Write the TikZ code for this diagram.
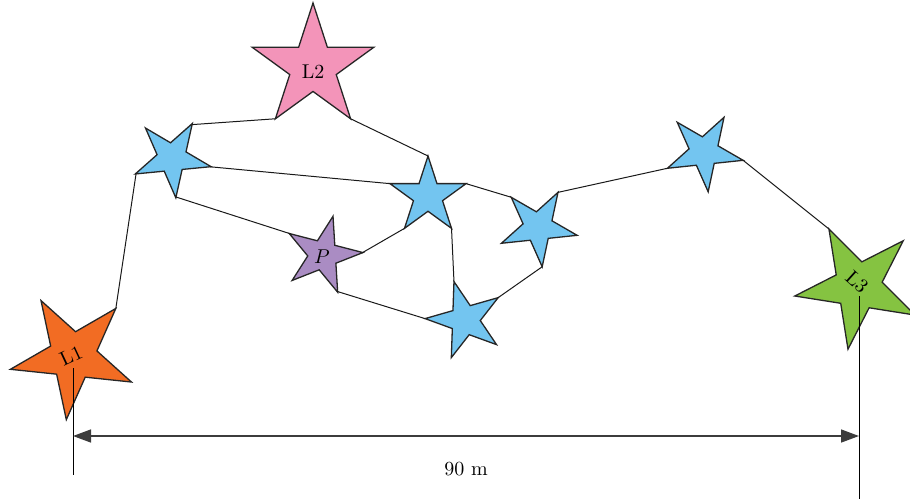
\documentclass[tikz,border=0pt]{standalone}
\usetikzlibrary{shapes.geometric,arrows.meta}
\definecolor{starblue}{RGB}{115,197,240}
\definecolor{starorange}{RGB}{242,108,35}
\definecolor{starpink}{RGB}{243,148,185}
\definecolor{stargreen}{RGB}{133,195,65}
\definecolor{starpurple}{RGB}{170,140,195}
\definecolor{dimgray}{RGB}{60,60,60}
\begin{document}
\begin{tikzpicture}[x=0.5pt,y=-0.5pt,
  starnode/.style={star, star points=5, star point ratio=2.618,
    draw=black!85, line width=0.65pt, inner sep=0pt, outer sep=0pt},
  bigstar/.style={starnode, minimum size=64pt},
  smallstar/.style={starnode, minimum size=40pt, fill=starblue},
  link/.style={line width=0.5pt, black!90},
  dimline/.style={line width=0.5pt, black},
  dimarrow/.style={line width=0.75pt, dimgray,
    {Triangle[length=9pt,width=6.5pt]}-{Triangle[length=9pt,width=6.5pt]}},
  lbl/.style={inner sep=0pt, font=\normalsize}]
\useasboundingbox (0,0) rectangle (910,498);
\clip (0,0) rectangle (910,498);

% stars
\node[bigstar, fill=starorange, shape border rotate=30]   (l1) at (73,356) {};
\node[bigstar, fill=starpink]                             (l2) at (313,67) {};
\node[bigstar, fill=stargreen, shape border rotate=27]    (l3) at (858,286) {};
\node[smallstar, shape border rotate=-30.5]               (b1) at (172,158) {};
\node[smallstar]                                          (b2) at (428,196) {};
\node[smallstar, shape border rotate=16]                  (b3) at (465,320) {};
\node[smallstar, shape border rotate=-30]                 (b4) at (538,227) {};
\node[smallstar, shape border rotate=-30]                 (b5) at (704,152) {};
\node[starnode, minimum size=40pt, fill=starpurple,
      shape border rotate=-14.5]                          (p)  at (323,255) {};

% links between star tips
\draw[link] (l1.48)    -- (b1.203.5);
\draw[link] (b1.59.5)  -- (l2.234);
\draw[link] (l2.306)   -- (b2.90);
\draw[link] (b1.347.5) -- (b2.162);
\draw[link] (b1.275.5) -- (p.147.5);
\draw[link] (p.3.5)    -- (b2.234);
\draw[link] (p.291.5)  -- (b3.178);
\draw[link] (b2.306)   -- (b3.106);
\draw[link] (b2.18)    -- (b4.132);
\draw[link] (b3.34)    -- (b4.276);
\draw[link] (b4.60)    -- (b5.204);
\draw[link] (b5.348)   -- (l3.117);

% labels
\node[lbl, rotate=25]  (l1t) at (71,356) {L1};
\node[lbl]             (l2t) at (313,72) {L2};
\node[lbl, rotate=-42] (l3t) at (857,282) {L3};
\node[lbl]             (pt)  at (322,257) {$P$};

% distance between L1 and L3
\coordinate (d1top) at (73,368);
\coordinate (d1bot) at (73,475);
\coordinate (d3top) at (859,296);
\coordinate (d3bot) at (859,500);
\coordinate (a1) at (73,436);
\coordinate (a3) at (859,436);
\draw[dimline] (d1top) -- (d1bot);
\draw[dimline] (d3top) -- (d3bot);
\draw[dimarrow] (a1) -- (a3);
\node[lbl] (dist) at (466,469) {90 m};
\end{tikzpicture}
\end{document}
